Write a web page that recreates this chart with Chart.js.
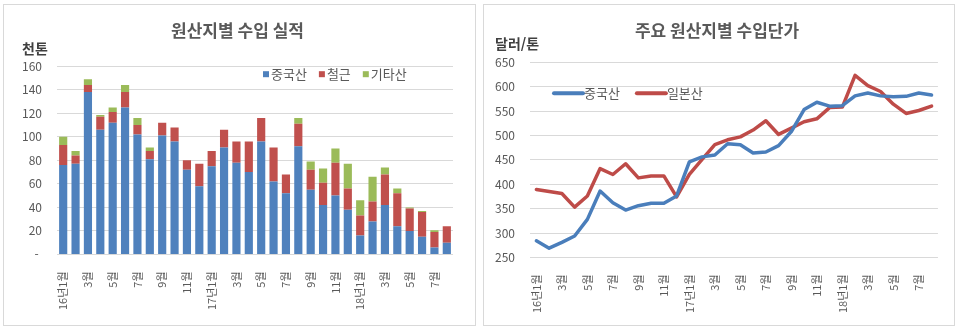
<!DOCTYPE html>
<html lang="ko">
<head>
    <meta charset="UTF-8">
    <title>원산지별 수입</title>
    <script src="https://cdn.jsdelivr.net/npm/chart.js@4"></script>
    <style>
        body { margin: 0; background: #fff; width: 960px; height: 329px; position: relative; overflow: hidden; }
        .panel { position: absolute; top: 4px; height: 320px; border: 1px solid #d9d9d9; background: #fff; }
        #left-panel { left: 3px; width: 471px; }
        #right-panel { left: 483px; width: 470px; }
        canvas { display: block; }
    </style>
</head>
<body>
    <div id="left-panel" class="panel"><canvas id="volChart" width="471" height="320"></canvas></div>
    <div id="right-panel" class="panel"><canvas id="priceChart" width="470" height="320"></canvas></div>

    <script>
        // 월 (16년1월 ~ 18년8월)
        const months = [
            '16년1월', '2월', '3월', '4월', '5월', '6월', '7월', '8월', '9월', '10월', '11월', '12월',
            '17년1월', '2월', '3월', '4월', '5월', '6월', '7월', '8월', '9월', '10월', '11월', '12월',
            '18년1월', '2월', '3월', '4월', '5월', '6월', '7월', '8월'
        ];

        // 수입 실적 (천톤)
        const chinaVol = [76, 77, 138, 106, 112, 125, 102, 81, 101, 96, 72, 58, 75, 91, 78, 70,
                          96, 62, 52, 92, 55, 42, 50, 38, 16, 28, 42, 24, 20, 15, 6, 10];
        const rebarVol = [17, 7, 6, 11, 9, 13, 8, 7, 11, 12, 8, 19, 13, 15, 18, 26,
                          20, 29, 16, 19, 17, 19, 28, 18, 17, 17, 26, 28, 19, 21, 13, 14];
        const otherVol = [7, 4, 5, 1.5, 4, 6, 6, 3, 0, 0, 0, 0, 0, 0, 0, 0,
                          0, 0, 0, 5, 7, 12, 12, 21, 13, 21, 6, 4, 1, 1, 1.5, 0];

        // 수입단가 (달러/톤)
        const chinaPrice = [284, 269, 281, 294, 328, 386, 362, 347, 356, 361, 361, 376, 446, 456, 460, 483,
                            481, 464, 466, 479, 508, 553, 568, 560, 561, 581, 587, 581, 579, 580, 587, 583];
        const japanPrice = [389, 385, 381, 353, 376, 432, 420, 442, 413, 417, 417, 374, 420, 451, 481, 491,
                            497, 511, 530, 502, 515, 528, 534, 557, 558, 623, 602, 590, 564, 545, 551, 560];

        const FONT = "'Noto Sans CJK KR', 'Noto Sans', sans-serif";
        const TXT = '#595959';
        const GRID = '#d9d9d9';

        // 차트 영역 안쪽에 범례 그리기
        const insideLegend = {
            id: 'insideLegend',
            afterDraw(chart, args, opts) {
                const { ctx, chartArea } = chart;
                let x = chartArea.left + opts.dx;
                const y = chartArea.top + opts.dy;
                ctx.save();
                ctx.font = '13px ' + FONT;
                ctx.textBaseline = 'middle';
                chart.data.datasets.forEach(function(ds) {
                    if (opts.kind === 'box') {
                        ctx.fillStyle = ds.backgroundColor;
                        ctx.fillRect(x, y - 3, 6, 6);
                        x += 8;
                    } else {
                        ctx.strokeStyle = ds.borderColor;
                        ctx.lineWidth = 4;
                        ctx.lineCap = 'round';
                        ctx.beginPath();
                        ctx.moveTo(x, y);
                        ctx.lineTo(x + 29, y);
                        ctx.stroke();
                        x += 30;
                    }
                    ctx.fillStyle = TXT;
                    ctx.fillText(ds.label, x, y);
                    x += ctx.measureText(ds.label).width + opts.gap;
                });
                ctx.restore();
            }
        };

        function everyOther(value, index) {
            return index % 2 === 0 ? this.getLabelForValue(value) : '';
        }

        // y축 폭 고정
        function fixWidth(scale) {
            scale.width = 35;
        }

        const xTicks = {
            autoSkip: false,
            maxRotation: 90,
            minRotation: 90,
            padding: 9,
            color: TXT,
            font: { size: 11, family: FONT },
            callback: everyOther
        };

        // 원산지별 수입 실적
        new Chart(document.getElementById('volChart'), {
            type: 'bar',
            data: {
                labels: months,
                datasets: [
                    { label: '중국산', data: chinaVol, backgroundColor: '#4f81bd' },
                    { label: '철근', data: rebarVol, backgroundColor: '#c0504d' },
                    { label: '기타산', data: otherVol, backgroundColor: '#9bbb59' }
                ]
            },
            options: {
                responsive: false,
                animation: false,
                layout: { padding: { left: 18, right: 22, top: 0, bottom: 6 } },
                datasets: { bar: { barPercentage: 0.66, categoryPercentage: 1 } },
                plugins: {
                    legend: { display: false },
                    tooltip: { enabled: false },
                    title: {
                        display: true, text: '원산지별 수입 실적', color: TXT,
                        font: { size: 17, weight: 'bold', family: FONT },
                        padding: { top: 15, bottom: 0 }
                    },
                    subtitle: {
                        display: true, text: '천톤', align: 'start', color: '#404040',
                        font: { size: 14, weight: 'bold', family: FONT },
                        padding: { top: 0, bottom: 9 }
                    },
                    insideLegend: { kind: 'box', dx: 206, dy: 8, gap: 12 }
                },
                scales: {
                    x: {
                        stacked: true,
                        grid: { display: false },
                        border: { display: false },
                        ticks: xTicks
                    },
                    y: {
                        stacked: true,
                        min: 0, max: 160,
                        afterFit: fixWidth,
                        grid: { color: GRID, drawTicks: false },
                        border: { display: false },
                        ticks: {
                            stepSize: 20, padding: 15, color: TXT,
                            font: { size: 12, family: FONT },
                            callback: v => v === 0 ? '- ' : v
                        }
                    }
                }
            },
            plugins: [insideLegend]
        });

        // 주요 원산지별 수입단가
        new Chart(document.getElementById('priceChart'), {
            type: 'line',
            data: {
                labels: months,
                datasets: [
                    { label: '중국산', data: chinaPrice, borderColor: '#4a7ebb', backgroundColor: '#4a7ebb' },
                    { label: '일본산', data: japanPrice, borderColor: '#be4b48', backgroundColor: '#be4b48' }
                ]
            },
            options: {
                responsive: false,
                animation: false,
                layout: { padding: { left: 11, right: 15, top: 0, bottom: 3 } },
                elements: {
                    point: { radius: 0 },
                    line: { borderWidth: 3.5, tension: 0, borderJoinStyle: 'round', borderCapStyle: 'round' }
                },
                plugins: {
                    legend: { display: false },
                    tooltip: { enabled: false },
                    title: {
                        display: true, text: '주요 원산지별 수입단가', color: TXT,
                        font: { size: 17, weight: 'bold', family: FONT },
                        padding: { top: 15, bottom: -5 }
                    },
                    subtitle: {
                        display: true, text: '달러/톤', align: 'start', color: '#404040',
                        font: { size: 14, weight: 'bold', family: FONT },
                        padding: { top: 0, bottom: 10 }
                    },
                    insideLegend: { kind: 'line', dx: 24, dy: 31, gap: 17 }
                },
                scales: {
                    x: {
                        offset: true,
                        grid: { display: false },
                        border: { display: false },
                        ticks: xTicks
                    },
                    y: {
                        min: 250, max: 650,
                        afterFit: fixWidth,
                        grid: { color: GRID, drawTicks: false },
                        border: { display: false },
                        ticks: {
                            stepSize: 50, padding: 15, color: TXT,
                            font: { size: 12, family: FONT }
                        }
                    }
                }
            },
            plugins: [insideLegend]
        });
    </script>
</body>
</html>
